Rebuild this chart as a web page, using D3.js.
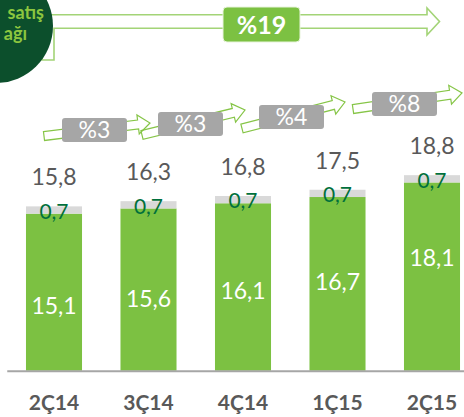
<!DOCTYPE html>
<html><head><meta charset="utf-8">
<script src="https://cdn.jsdelivr.net/npm/d3@7/dist/d3.min.js"></script>
<style>
html,body{margin:0;padding:0;background:#fff;overflow:hidden}
svg{display:block;font-family:Lato,"Open Sans",sans-serif}
</style></head>
<body>
<script>
// ---- data ----
const categories = ["2Ç14","3Ç14","4Ç14","1Ç15","2Ç15"];
const mainValues = [15.1,15.6,16.1,16.7,18.1];
const otherValues = [0.7,0.7,0.7,0.7,0.7];
const totalLabels = ["15,8","16,3","16,8","17,5","18,8"];
const growthLabels = ["%3","%3","%4","%8"];
const totalGrowth = "%19";
const badgeLines = ["satış","ağı"];

const fmt = v => d3.format(".1f")(v).replace(".", ",");
const W = 464, H = 417;
const svg = d3.select("body").append("svg").attr("width", W).attr("height", H);

const x = d3.scaleBand().domain(categories).range([6.75, 479.25]).paddingInner(0.407).paddingOuter(0.2035);
const y = d3.scaleLinear().domain([0, 20]).range([370.7, 162.7]);

// ---- big arrow (total growth) ----
const big = d3.path();
big.moveTo(42, 60); big.lineTo(42, 14.7); big.lineTo(427, 14.7); big.lineTo(427, 8);
big.lineTo(439.5, 21.5); big.lineTo(427, 35); big.lineTo(427, 28.3); big.lineTo(54, 28.3);
big.lineTo(54, 60); big.closePath();
svg.append("path").attr("d", big.toString()).attr("fill", "none")
  .attr("stroke", "#a3d477").attr("stroke-width", 1.6);

// badge circle
svg.append("circle").attr("cx", -4).attr("cy", 26).attr("r", 57).attr("fill", "#0c4f2c");
svg.append("text").attr("x", 44).attr("y", 19).attr("text-anchor", "end")
  .attr("font-size", 18).attr("font-weight", 700).attr("fill", "#8cc63f").text(badgeLines[0]);
svg.append("text").attr("x", 27).attr("y", 40).attr("text-anchor", "end")
  .attr("font-size", 18).attr("font-weight", 700).attr("fill", "#8cc63f").text(badgeLines[1]);

svg.append("rect").attr("x", 223).attr("y", 7).attr("width", 77).attr("height", 35).attr("rx", 4)
  .attr("fill", "#7cc142").attr("stroke", "#e8f4dc").attr("stroke-width", 1);
svg.append("text").attr("x", 261.5).attr("y", 33.5).attr("text-anchor", "middle")
  .attr("font-size", 25).attr("font-weight", 700).attr("fill", "#fff").text(totalGrowth);

// ---- small growth arrows ----
const arrowGeom = [
  {x0:44, y0:136, x1:150, y1:123, bx:62, by:118},
  {x0:142, y0:135, x1:245, y1:110, bx:158, by:112},
  {x0:242, y0:128.5, x1:345, y1:102, bx:259, by:105},
  {x0:353, y0:109, x1:462, y1:93, bx:372, by:92}
];
const gArr = svg.append("g");
growthLabels.forEach((lab, i) => {
  const g = arrowGeom[i];
  const L = Math.hypot(g.x1 - g.x0, g.y1 - g.y0);
  const ang = Math.atan2(g.y1 - g.y0, g.x1 - g.x0) * 180 / Math.PI;
  const s = 4.5, Hh = 9.5, hl = 12;
  const pts = [[0,-s],[L-hl,-s],[L-hl,-Hh],[L,0],[L-hl,Hh],[L-hl,s],[0,s]];
  gArr.append("polygon").attr("points", pts.map(p => p.join(",")).join(" "))
    .attr("transform", `translate(${g.x0},${g.y0}) rotate(${ang})`)
    .attr("fill", "none").attr("stroke", "#86c547").attr("stroke-width", 1.2);
});
growthLabels.forEach((lab, i) => {
  const g = arrowGeom[i];
  gArr.append("rect").attr("x", g.bx).attr("y", g.by).attr("width", 65).attr("height", 24).attr("rx", 3)
    .attr("fill", "#a6a6a6");
  gArr.append("text").attr("x", g.bx + 32.5).attr("y", g.by + 20).attr("text-anchor", "middle")
    .attr("font-size", 23).attr("fill", "#fff").text(lab);
});

// ---- bars ----
const gb = svg.append("g");
gb.selectAll(".main").data(categories).join("rect").attr("class", "main")
  .attr("x", d => x(d)).attr("width", x.bandwidth())
  .attr("y", (d, i) => y(mainValues[i])).attr("height", (d, i) => y(0) - y(mainValues[i]))
  .attr("fill", "#7cc142");
gb.selectAll(".other").data(categories).join("rect").attr("class", "other")
  .attr("x", d => x(d)).attr("width", x.bandwidth())
  .attr("y", (d, i) => y(mainValues[i] + otherValues[i]))
  .attr("height", (d, i) => y(mainValues[i]) - y(mainValues[i] + otherValues[i]))
  .attr("fill", "#d9d9d9");

// axis
const axis = svg.append("g").attr("transform", `translate(0,${y(0)})`)
  .call(d3.axisBottom(x).tickSize(0).tickPadding(0));
axis.select(".domain").attr("stroke", "#a6a6a6").attr("stroke-width", 2);
axis.selectAll("text").attr("dy", null).attr("y", 39.5)
  .attr("font-family", "Lato").attr("font-size", 21).attr("font-weight", 700).attr("fill", "#595959");

// labels
const inFrac = d3.scaleLinear().domain(d3.extent(mainValues)).range([0.585, 0.40]);
gb.selectAll(".inlab").data(categories).join("text").attr("class", "inlab")
  .attr("x", d => x(d) + x.bandwidth() / 2)
  .attr("y", (d, i) => { const v = mainValues[i]; return y(v) + inFrac(v) * (y(0) - y(v)); })
  .attr("dy", "0.36em").attr("text-anchor", "middle").attr("font-size", 23).attr("fill", "#fff")
  .text((d, i) => fmt(mainValues[i]));
gb.selectAll(".otlab").data(categories).join("text").attr("class", "otlab")
  .attr("x", d => x(d) + x.bandwidth() / 2)
  .attr("y", (d, i) => y(mainValues[i] + otherValues[i]) + 12.5)
  .attr("text-anchor", "middle").attr("font-size", 21).attr("fill", "#00703c")
  .text((d, i) => fmt(otherValues[i]));
gb.selectAll(".totlab").data(categories).join("text").attr("class", "totlab")
  .attr("x", d => x(d) + x.bandwidth() / 2)
  .attr("y", (d, i) => y(mainValues[i] + otherValues[i]) - 21)
  .attr("text-anchor", "middle").attr("font-size", 23).attr("fill", "#595959")
  .text((d, i) => totalLabels[i]);
</script>
</body></html>
